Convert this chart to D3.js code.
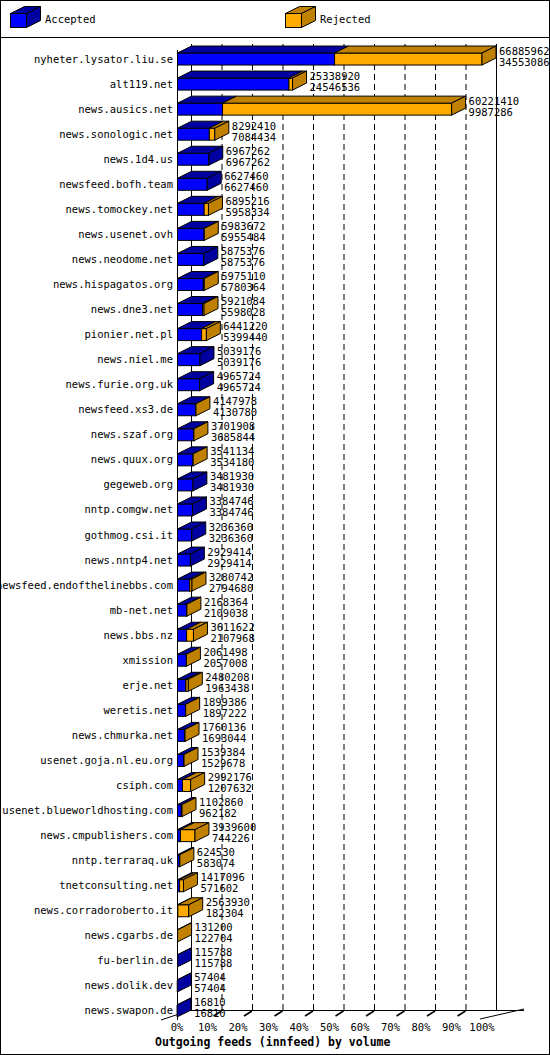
<!DOCTYPE html><html><head><meta charset="utf-8"><script src="https://d3js.org/d3.v7.min.js"></script>
<style>body{margin:0;background:#fff}</style></head><body><script>
const hosts=["nyheter.lysator.liu.se","alt119.net","news.ausics.net","news.sonologic.net","news.1d4.us","newsfeed.bofh.team","news.tomockey.net","news.usenet.ovh","news.neodome.net","news.hispagatos.org","news.dne3.net","pionier.net.pl","news.niel.me","news.furie.org.uk","newsfeed.xs3.de","news.szaf.org","news.quux.org","gegeweb.org","nntp.comgw.net","gothmog.csi.it","news.nntp4.net","newsfeed.endofthelinebbs.com","mb-net.net","news.bbs.nz","xmission","erje.net","weretis.net","news.chmurka.net","usenet.goja.nl.eu.org","csiph.com","usenet.blueworldhosting.com","news.cmpublishers.com","nntp.terraraq.uk","tnetconsulting.net","news.corradoroberto.it","news.cgarbs.de","fu-berlin.de","news.dolik.dev","news.swapon.de"];
const offered=[66885962,25338920,60221410,8292410,6967262,6627460,6895216,5983672,5875376,5975110,5921084,6441220,5039176,4965724,4147978,3701908,3541134,3481930,3384746,3236360,2929414,3280742,2168364,3611622,2061498,2480208,1899386,1760136,1539384,2992176,1102860,3939600,624530,1417096,2563930,131200,115788,57404,16810];
const accepted=[34553086,24546536,9987286,7084434,6967262,6627460,5958334,5955484,5875376,5780364,5598028,5399440,5039176,4965724,4130780,3685844,3534180,3481930,3384746,3236360,2929414,2794680,2109038,2107968,2057008,1963438,1897222,1693044,1529678,1207632,962182,744226,583074,571602,182304,122704,115788,57404,16810];
const ticks=[0,10,20,30,40,50,60,70,80,90,100];
const W=550,H=1055,DX=14,DY=7;
const svg=d3.select("body").append("svg").attr("width",W).attr("height",H).style("font-family","DejaVu Sans Mono").style("font-size","10.5px");
const BLUE="#0000ff",DBLUE="#0000a0",OR="#ffaa00",BR="#c08000";
svg.append("rect").attr("x",0.5).attr("y",0.5).attr("width",W-1).attr("height",H-1).attr("fill","#fff").attr("stroke","#000");
svg.append("line").attr("x1",0).attr("x2",W).attr("y1",37.5).attr("y2",37.5).attr("stroke","#000");
function box(g,x,y,w,h,front,topc,side){
  g.append("rect").attr("x",x).attr("y",y).attr("width",w).attr("height",h).attr("fill",front).attr("stroke","#000");
  g.append("path").attr("d",`M${x},${y}L${x+DX},${y-DY}L${x+w+DX},${y-DY}L${x+w},${y}Z`).attr("fill",topc).attr("stroke","#000");
  if(side)g.append("path").attr("d",`M${x+w},${y}L${x+w+DX},${y-DY}L${x+w+DX},${y+h-DY}L${x+w},${y+h}Z`).attr("fill",side).attr("stroke","#000");
}
const lg=svg.append("g");
box(lg,10.5,13.5,16,14,BLUE,DBLUE,DBLUE);
lg.append("text").attr("x",45).attr("y",23).text("Accepted");
box(lg,285.5,13.5,16,14,OR,BR,BR);
lg.append("text").attr("x",320).attr("y",23).text("Rejected");
const x=d3.scaleLinear().domain([0,d3.max(offered)]).range([177,482]);
const xp=d3.scaleLinear().domain([0,100]).range([177,482]);
const y=d3.scaleBand().domain(hosts).range([46,1023]);
const yTop=44,floor=1010;
svg.append("line").attr("x1",xp(0)+DX+.5).attr("x2",xp(0)+DX+.5).attr("y1",yTop).attr("y2",floor).attr("stroke","#000");
svg.append("line").attr("x1",xp(100)+DX+.5).attr("x2",xp(100)+DX+.5).attr("y1",yTop).attr("y2",floor).attr("stroke","#000");
svg.append("line").attr("x1",xp(0)+DX).attr("x2",xp(100)+DX+28).attr("y1",floor+.5).attr("y2",floor+.5).attr("stroke","#000");
svg.append("line").attr("x1",xp(0)-16).attr("y1",floor+10).attr("x2",xp(0)+DX).attr("y2",floor).attr("stroke","#000");
svg.append("line").attr("x1",xp(100)-2).attr("y1",floor+9).attr("x2",xp(100)+DX+28).attr("y2",floor-1).attr("stroke","#000");
ticks.slice(1,-1).forEach(t=>{svg.append("line").attr("x1",xp(t)+DX+.5).attr("x2",xp(t)+DX+.5).attr("y1",yTop).attr("y2",floor).attr("stroke","#000").attr("stroke-dasharray","6,4");
  svg.append("line").attr("x1",xp(t)+DX-8).attr("y1",floor+6).attr("x2",xp(t)+DX).attr("y2",floor+1).attr("stroke","#000").attr("stroke-width",1.5);});
svg.append("line").attr("x1",xp(0)+.5).attr("x2",xp(0)+.5).attr("y1",yTop+6).attr("y2",floor+10).attr("stroke","#000");
ticks.forEach(t=>svg.append("text").attr("x",xp(t)).attr("y",floor+21).attr("text-anchor","middle").text(t+"%"));
svg.append("text").attr("x",155).attr("y",1046).attr("font-weight","bold").style("font-size","11.5px").text("Outgoing feeds (innfeed) by volume");
const bg=svg.append("g");
hosts.forEach((h,i)=>{
  const cy=y(h)+y.bandwidth()/2, yb=cy-5.5, bh=12;
  const xa=x(accepted[i]), xo=x(offered[i]), x0=x(0)+.5;
  const g=bg.append("g");
  const rej=offered[i]>accepted[i];
  box(g,x0,yb,xa-x0,bh,BLUE,DBLUE,rej?null:DBLUE);
  if(rej)box(g,xa,yb,xo-xa,bh,OR,BR,BR);
  g.append("text").attr("x",173).attr("y",cy+4).attr("text-anchor","end").text(h);
  g.append("text").attr("x",xo+DX+3).attr("y",cy-4).text(offered[i]);
  g.append("text").attr("x",xo+DX+3).attr("y",cy+7).text(accepted[i]);
});
</script></body></html>
